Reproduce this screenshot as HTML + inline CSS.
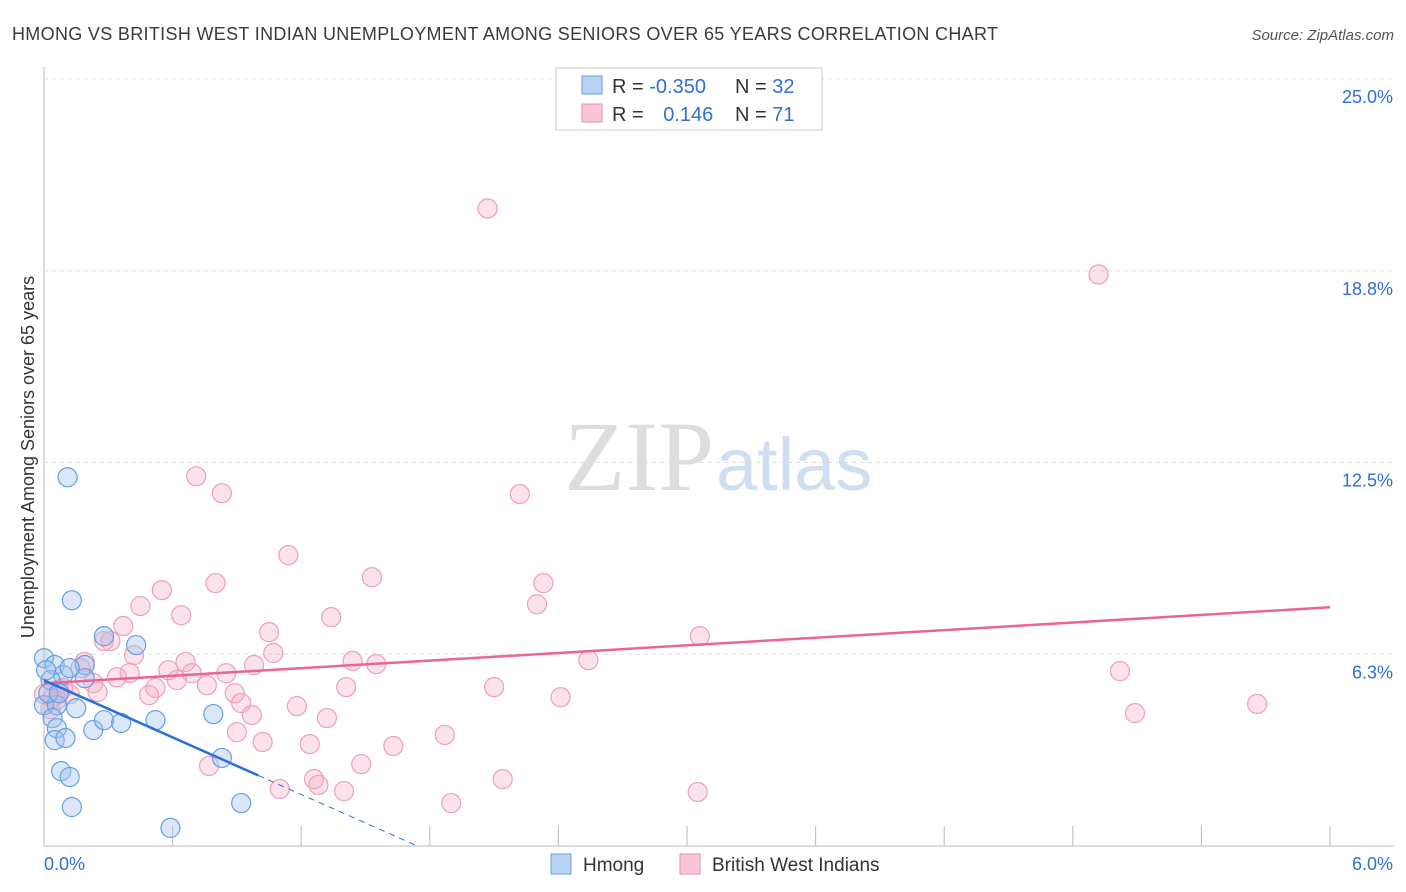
<!DOCTYPE html>
<html><head><meta charset="utf-8"><style>
body{margin:0;background:#fff;font-family:"Liberation Sans",sans-serif}
svg{display:block}
</style></head><body>
<svg id="chart" width="1406" height="892">
<text x="12" y="40" font-size="18" fill="#3a3a3a" textLength="986">HMONG VS BRITISH WEST INDIAN UNEMPLOYMENT AMONG SENIORS OVER 65 YEARS CORRELATION CHART</text>
<text x="1394" y="40" font-size="15" fill="#555" font-style="italic" text-anchor="end">Source: ZipAtlas.com</text>
<text x="714" y="490" font-size="100" fill="#ddd" text-anchor="end" font-family="Liberation Serif,serif">ZIP</text>
<text x="716" y="490" font-size="74" fill="#cfdff2">atlas</text>
<text transform="translate(34,457) rotate(-90)" font-size="18" fill="#333" text-anchor="middle">Unemployment Among Seniors over 65 years</text>
<g id="grid"></g><g id="marks"></g>
<g>
<rect x="556" y="68" width="266" height="62" fill="#fff" stroke="#ccc"/>
<rect x="582" y="76" width="20" height="18" fill="#b9d3f5" stroke="#6a9ee0"/>
<rect x="582" y="104" width="20" height="18" fill="#f9c6d5" stroke="#ea8fac"/>
<text x="612" y="93" font-size="20" fill="#333">R = <tspan fill="#2f6fd6">-0.350</tspan></text>
<text x="735" y="93" font-size="20" fill="#333">N = <tspan fill="#2f6fd6">32</tspan></text>
<text x="612" y="121" font-size="20" fill="#333">R = <tspan fill="#2f6fd6" dx="14">0.146</tspan></text>
<text x="735" y="121" font-size="20" fill="#333">N = <tspan fill="#2f6fd6">71</tspan></text>
</g>
<g>
<rect x="551" y="854" width="20" height="20" fill="#b9d3f5" stroke="#6a9ee0"/>
<text x="583" y="871" font-size="19" fill="#333">Hmong</text>
<rect x="680" y="854" width="20" height="20" fill="#f9c6d5" stroke="#ea8fac"/>
<text x="712" y="871" font-size="19" fill="#333">British West Indians</text>
</g>
</svg>
<script>
const yTicks=[6.25,12.5,18.75,25];
const yTickLabels=["6.3%","12.5%","18.8%","25.0%"];
const xTickLabels=["0.0%","6.0%"];
const hmongX=[0.11,0.13,0.28,0.43,0,0.05,0.19,0.09,0.19,0.03,0,0.06,0.15,0.04,0.06,0.23,0.05,0.1,0.28,0.36,0.52,0.79,0.83,0.08,0.12,0.13,0.59,0.92,0.02,0.07,0.12,0.01];
const hmongY=[12.02,8.01,6.84,6.55,6.12,5.90,5.90,5.57,5.47,5.41,4.59,4.59,4.49,4.17,3.84,3.78,3.45,3.52,4.10,4.01,4.10,4.30,2.87,2.44,2.25,1.27,0.59,1.40,4.98,4.98,5.80,5.73];
const bwiX=[2.07,4.92,0.71,0.83,2.22,1.14,1.53,0.80,2.33,0.55,0.45,2.30,0.64,1.34,0.37,1.05,0.31,3.06,1.07,0.42,2.54,1.44,1.55,0.98,0.66,0.19,0.58,5.02,0.40,0.34,0.23,0.76,0.85,0.69,0.62,0.52,0.49,1.41,2.1,0.89,0.25,2.41,0,0.07,0.12,0.92,1.18,0.97,1.32,5.66,5.09,0.90,1.87,1.02,1.63,1.24,1.48,0.77,1.26,2.14,1.10,1.28,1.40,1.9,3.05,0.04,0.17,0.09,0.03,0.06,0.28];
const bwiY=[20.78,18.63,12.05,11.50,11.47,9.48,8.76,8.57,8.57,8.34,7.82,7.88,7.52,7.46,7.17,6.97,6.68,6.84,6.29,6.22,6.06,6.03,5.93,5.90,6.0,6.0,5.73,5.70,5.64,5.50,5.31,5.24,5.63,5.63,5.41,5.15,4.92,5.18,5.18,4.98,5.02,4.85,4.95,5.11,4.95,4.66,4.56,4.27,4.17,4.63,4.33,3.71,3.62,3.39,3.26,3.32,2.67,2.61,2.18,2.18,1.86,1.99,1.79,1.40,1.76,4.82,5.80,5.15,4.46,4.76,6.68];
const bwiTrend=[5.3,7.78];
const hmongTrend=[5.4,-3.1];
const X0=44,X1=1330,Y0=846,Y1=79;
const sx=v=>X0+v/6*(X1-X0), sy=v=>Y0-v/25*(Y0-Y1);
const NS="http://www.w3.org/2000/svg";
function mk(t,a,p){const e=document.createElementNS(NS,t);for(const k in a)e.setAttribute(k,a[k]);p.appendChild(e);return e;}
const grid=document.getElementById('grid'),marks=document.getElementById('marks');
mk('line',{x1:X0,y1:Y1-12,x2:X0,y2:Y0,stroke:'#bbb'},grid);
mk('line',{x1:X0,y1:Y0,x2:1394,y2:Y0,stroke:'#bbb'},grid);
yTicks.forEach((t,i)=>{
 const l=mk('line',{x1:X0,x2:1394,y1:sy(t),y2:sy(t),stroke:'#ddd','stroke-dasharray':'4,4'},grid);
 
 
 const tx=mk('text',{x:1393,y:sy(t)+24,'font-size':18,fill:'#2f6fd6','text-anchor':'end'},grid);
 tx.textContent=yTickLabels[i];
 
 
});
for(let i=1;i<=10;i++){const x=sx(i*0.6);const l=mk('line',{x1:x,x2:x,y1:Y0-20,y2:Y0,stroke:'#bbb'},grid);
 
 }
[[44,'start'],[1393,'end']].forEach((p,i)=>{const t=mk('text',{x:p[0],y:870,'font-size':18,fill:'#2f6fd6','text-anchor':p[1]},grid);t.textContent=xTickLabels[i];
 
 });
bwiX.forEach((x,i)=>{const c=mk('circle',{cx:sx(x),cy:sy(bwiY[i]),r:9.5,fill:'rgba(247,168,192,0.32)',stroke:'#ee9fb8','stroke-width':1.2},marks);
 
 });
hmongX.forEach((x,i)=>{const c=mk('circle',{cx:sx(x),cy:sy(hmongY[i]),r:9.5,fill:'rgba(160,196,240,0.4)',stroke:'#6a9ee0','stroke-width':1.2},marks);
 
 });
const pl=mk('line',{x1:sx(0),y1:sy(bwiTrend[0]),x2:sx(6),y2:sy(bwiTrend[1]),stroke:'#e8668f','stroke-width':2.5},marks);


const hy=x=>hmongTrend[0]+hmongTrend[1]*x, xe=-hmongTrend[0]/hmongTrend[1];
const hl=mk('line',{x1:sx(0),y1:sy(hy(0)),x2:sx(1),y2:sy(hy(1)),stroke:'#2a6fd8','stroke-width':2.5},marks);


const hd=mk('line',{x1:sx(1),y1:sy(hy(1)),x2:sx(xe),y2:sy(0),stroke:'#2a6fd8','stroke-width':1,'stroke-dasharray':'6,5'},marks);


</script>
</body></html>
